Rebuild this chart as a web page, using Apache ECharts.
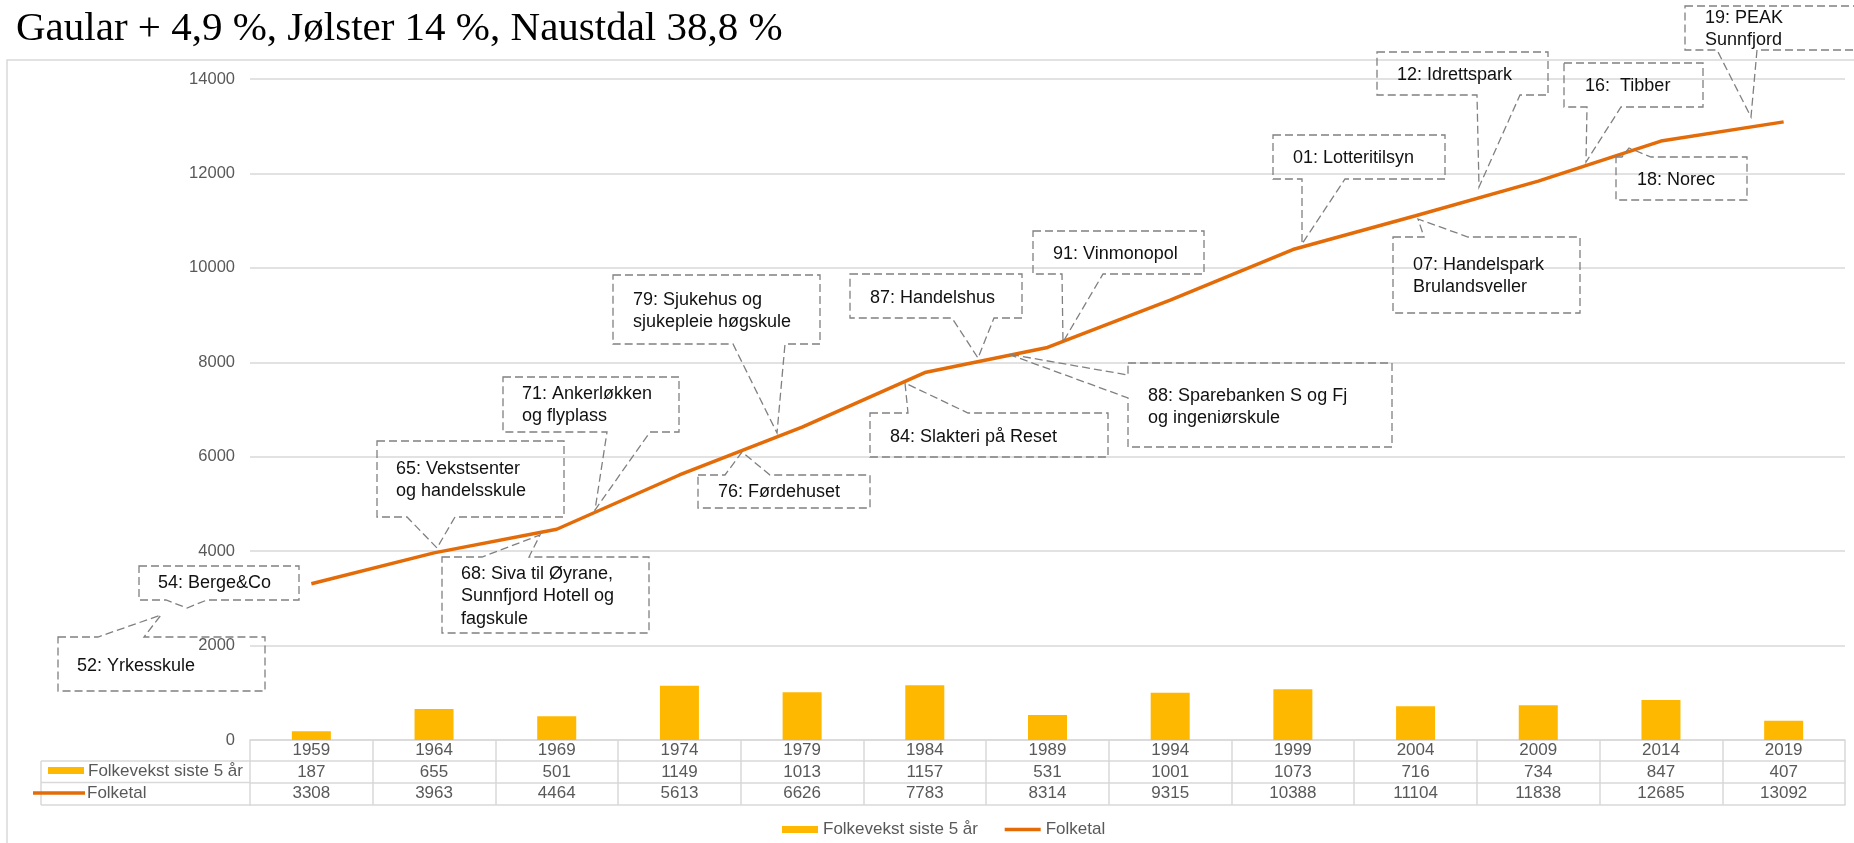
<!DOCTYPE html>
<html>
<head>
<meta charset="utf-8">
<script src="https://cdn.jsdelivr.net/npm/echarts@6.0.0/dist/echarts.min.js"></script>
<style>
  html, body { margin: 0; padding: 0; background: #fff; }
  #main { width: 1854px; height: 843px; }
</style>
</head>
<body>
<div id="main"></div>
<script>
// data
const titleText = 'Gaular + 4,9 %, Jølster 14 %, Naustdal 38,8 %';
const years = ['1959', '1964', '1969', '1974', '1979', '1984', '1989', '1994', '1999', '2004', '2009', '2014', '2019'];
const growthName = 'Folkevekst siste 5 år';
const growth = [187, 655, 501, 1149, 1013, 1157, 531, 1001, 1073, 716, 734, 847, 407];
const popName = 'Folketal';
const population = [3308, 3963, 4464, 5613, 6626, 7783, 8314, 9315, 10388, 11104, 11838, 12685, 13092];

// callout boxes (pixel layout), text + pointer
const callouts = [
  { lines: ['52: Yrkesskule'], x: 58, y: 637, w: 207, h: 54, side: 'top', gap: [98, 144], tip: [161, 615], tx: 77, ty: 666 },
  { lines: ['54: Berge&Co'], x: 139, y: 566, w: 160, h: 34, side: 'bottom', gap: [166, 207], tip: [187, 608], tx: 158, ty: 583 },
  { lines: ['65: Vekstsenter', 'og handelsskule'], x: 377, y: 441, w: 187, h: 76, side: 'bottom', gap: [407, 455], tip: [437, 548], tx: 396, ty: 469 },
  { lines: ['68: Siva til Øyrane,', 'Sunnfjord Hotell og', 'fagskule'], x: 442, y: 557, w: 207, h: 76, side: 'top', gap: [482, 529], tip: [540, 535], tx: 461, ty: 574 },
  { lines: ['71: Ankerløkken', 'og flyplass'], x: 503, y: 377, w: 176, h: 55, side: 'bottom', gap: [607, 650], tip: [595, 510], tx: 522, ty: 394 },
  { lines: ['79: Sjukehus og', 'sjukepleie høgskule'], x: 613, y: 275, w: 207, h: 69, side: 'bottom', gap: [733, 785], tip: [777, 433], tx: 633, ty: 300 },
  { lines: ['76: Førdehuset'], x: 698, y: 475, w: 172, h: 33, side: 'top', gap: [725, 770], tip: [742, 452], tx: 718, ty: 492 },
  { lines: ['84: Slakteri på Reset'], x: 870, y: 413, w: 238, h: 44, side: 'top', gap: [908, 968], tip: [905, 383], tx: 890, ty: 437 },
  { lines: ['87: Handelshus'], x: 850, y: 274, w: 172, h: 44, side: 'bottom', gap: [952, 994], tip: [978, 358], tx: 870, ty: 298 },
  { lines: ['88: Sparebanken S og Fj', 'og ingeniørskule'], x: 1128, y: 363, w: 264, h: 84, side: 'left', gap: [375, 398], tip: [1008, 354], tx: 1148, ty: 396 },
  { lines: ['91: Vinmonopol'], x: 1033, y: 231, w: 171, h: 43, side: 'bottom', gap: [1062, 1103], tip: [1063, 342], tx: 1053, ty: 254 },
  { lines: ['01: Lotteritilsyn'], x: 1273, y: 135, w: 172, h: 44, side: 'bottom', gap: [1302, 1345], tip: [1302, 244], tx: 1293, ty: 158 },
  { lines: ['07: Handelspark', 'Brulandsveller'], x: 1393, y: 237, w: 187, h: 76, side: 'top', gap: [1424, 1468], tip: [1418, 219], tx: 1413, ty: 265 },
  { lines: ['12: Idrettspark'], x: 1377, y: 52, w: 171, h: 43, side: 'bottom', gap: [1477, 1520], tip: [1479, 187], tx: 1397, ty: 75 },
  { lines: ['16:  Tibber'], x: 1564, y: 63, w: 139, h: 44, side: 'bottom', gap: [1587, 1621], tip: [1586, 162], tx: 1585, ty: 86 },
  { lines: ['18: Norec'], x: 1616, y: 157, w: 131, h: 43, side: 'top', gap: [1622, 1651], tip: [1629, 148], tx: 1637, ty: 180 },
  { lines: ['19: PEAK', 'Sunnfjord'], x: 1685, y: 6, w: 200, h: 44, side: 'bottom', gap: [1717, 1757], tip: [1751, 117], tx: 1705, ty: 18 }
];

const GRID_C = '#d9d9d9';
const TXT_C = '#595959';
const BAR_C = '#FFB800';
const LINE_C = '#E36C09';
const FONT = '"Liberation Sans", Arial, sans-serif';

function calloutPoints(c) {
  const x0 = c.x, y0 = c.y, x1 = c.x + c.w, y1 = c.y + c.h;
  const g1 = c.gap[0], g2 = c.gap[1];
  const pts = [[x0, y0]];
  if (c.side === 'top') pts.push([g1, y0], c.tip, [g2, y0]);
  pts.push([x1, y0]);
  if (c.side === 'right') pts.push([x1, g1], c.tip, [x1, g2]);
  pts.push([x1, y1]);
  if (c.side === 'bottom') pts.push([g2, y1], c.tip, [g1, y1]);
  pts.push([x0, y1]);
  if (c.side === 'left') pts.push([x0, g2], c.tip, [x0, g1]);
  return pts;
}

const LH = 22.5;
const calloutGraphics = [];
callouts.forEach(c => {
  calloutGraphics.push({
    type: 'polygon',
    z: 100,
    shape: { points: calloutPoints(c) },
    style: { fill: null, stroke: '#808080', lineWidth: 1.3, lineDash: [8, 4] }
  });
  calloutGraphics.push({
    type: 'text',
    z: 101,
    x: c.tx,
    y: c.ty - LH / 2,
    style: {
      text: c.lines.join('\n'),
      font: '18px ' + FONT,
      fill: '#111',
      lineHeight: LH,
      verticalAlign: 'top'
    }
  });
});

// table left column (legend keys) + frame
const tableGraphics = [
  { type: 'rect', shape: { x: 7, y: 60, width: 1870, height: 800 }, style: { fill: null, stroke: GRID_C, lineWidth: 1.5 } },
  { type: 'line', shape: { x1: 41, y1: 761, x2: 251, y2: 761 }, style: { stroke: GRID_C, lineWidth: 1.5 } },
  { type: 'line', shape: { x1: 41, y1: 782.5, x2: 251, y2: 782.5 }, style: { stroke: GRID_C, lineWidth: 1.5 } },
  { type: 'line', shape: { x1: 41, y1: 805, x2: 251, y2: 805 }, style: { stroke: GRID_C, lineWidth: 1.5 } },
  { type: 'line', shape: { x1: 41, y1: 761, x2: 41, y2: 805 }, style: { stroke: GRID_C, lineWidth: 1.5 } },
  { type: 'rect', shape: { x: 48, y: 767, width: 36, height: 7 }, style: { fill: BAR_C } },
  { type: 'text', x: 88, y: 771, style: { text: growthName, font: '17px ' + FONT, fill: TXT_C, verticalAlign: 'middle' } },
  { type: 'line', z: 5, shape: { x1: 33, y1: 793, x2: 85, y2: 793 }, style: { stroke: LINE_C, lineWidth: 3.5 } },
  { type: 'text', x: 87, y: 793, style: { text: popName, font: '17px ' + FONT, fill: TXT_C, verticalAlign: 'middle' } }
];

const chart = echarts.init(document.getElementById('main'));

const rowAxis = (offset) => ({
  type: 'category',
  data: years,
  position: 'bottom',
  offset: offset,
  axisLine: { show: true, lineStyle: { color: GRID_C, width: 1.5 } },
  axisTick: { show: false },
  axisLabel: { show: false },
  splitLine: { show: false }
});

const option = {
  animation: false,
  title: {
    text: titleText,
    left: 11,
    top: 4,
    textStyle: { fontFamily: '"Liberation Serif", "DejaVu Serif", serif', fontSize: 41, fontWeight: 'normal', color: '#000' }
  },
  legend: {
    left: 777,
    top: 816,
    itemWidth: 36,
    itemHeight: 7,
    itemGap: 25,
    textStyle: { fontFamily: FONT, fontSize: 17, color: TXT_C },
    data: [
      { name: growthName, icon: 'rect' },
      { name: popName, itemStyle: { opacity: 0 }, lineStyle: { width: 3.5 } }
    ]
  },
  grid: { left: 250, right: 9, top: 79, bottom: 103 },
  xAxis: [
    {
      type: 'category',
      data: years,
      boundaryGap: true,
      axisLine: { show: true, lineStyle: { color: GRID_C, width: 1.5 } },
      axisTick: { show: true, length: 65, lineStyle: { color: GRID_C, width: 1.5 } },
      axisLabel: {
        interval: 0,
        margin: 0,
        fontFamily: FONT,
        fontSize: 17,
        lineHeight: 21.5,
        color: TXT_C,
        formatter: (v, i) => v + '\n' + growth[i] + '\n' + population[i]
      }
    },
    rowAxis(21),
    rowAxis(42.5),
    rowAxis(65)
  ],
  yAxis: {
    type: 'value',
    min: 0,
    max: 14000,
    interval: 2000,
    axisLine: { show: false },
    axisTick: { show: false },
    axisLabel: { fontFamily: FONT, fontSize: 16.5, color: TXT_C, margin: 15, formatter: v => String(v) },
    splitLine: { lineStyle: { color: GRID_C, width: 1.5 } }
  },
  series: [
    {
      name: growthName,
      type: 'bar',
      data: growth,
      barWidth: 39,
      itemStyle: { color: BAR_C }
    },
    {
      name: popName,
      type: 'line',
      data: population,
      symbol: 'none',
      lineStyle: { color: LINE_C, width: 3.5 },
      itemStyle: { color: LINE_C }
    }
  ],
  graphic: tableGraphics.concat(calloutGraphics)
};

chart.setOption(option);
</script>
</body>
</html>
